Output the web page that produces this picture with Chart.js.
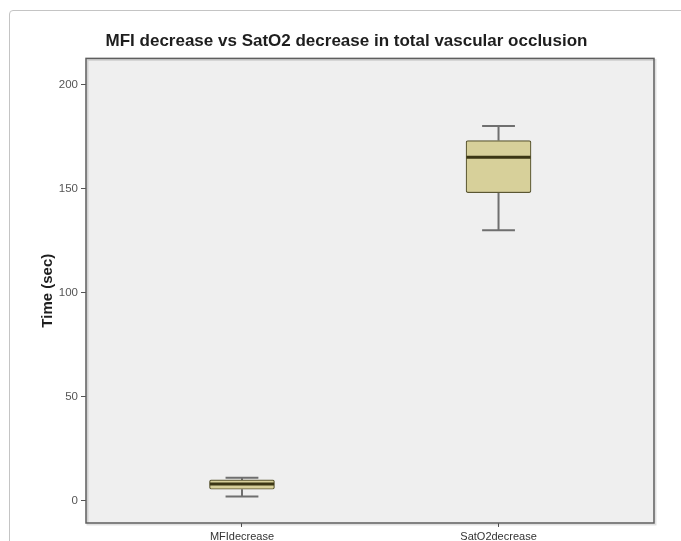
<!DOCTYPE html>
<html>
<head>
<meta charset="utf-8">
<script src="https://cdn.jsdelivr.net/npm/chart.js@4/dist/chart.umd.min.js"></script>
<style>
  html, body { margin: 0; padding: 0; background: #ffffff; }
  #wrap { position: relative; width: 681px; height: 541px; overflow: hidden; }
  #frame { position: absolute; left: 9px; top: 10px; width: 720px; height: 600px;
           border: 1px solid #c4c4c4; border-radius: 4px; box-sizing: border-box; }
  #c { position: absolute; left: 0; top: 0; }
</style>
</head>
<body>
<div id="wrap">
  <div id="frame"></div>
  <canvas id="c" width="681" height="541"></canvas>
</div>
<script>
// ---- data ----
const categories = ['MFIdecrease', 'SatO2decrease'];
const whiskerLow  = [2, 130];
const quartile1   = [5.5, 148];
const medians     = [8, 165];
const quartile3   = [10, 173];
const whiskerHigh = [11, 180];
const yTicks = [0, 50, 100, 150, 200];
const chartTitle = 'MFI decrease vs SatO2 decrease in total vascular occlusion';
const yTitle = 'Time (sec)';

// ---- presentation constants ----
const BOX_HALF = 0.125;   // half box width in category units
const CAP_HALF = 0.064;   // half whisker-cap width in category units

const boxData = categories.map((c, i) => ({ x: i + 1, y: [quartile1[i], quartile3[i]] }));

const whiskerData = [];
categories.forEach((c, i) => {
  const x = i + 1;
  whiskerData.push({ x, y: quartile3[i] }, { x, y: whiskerHigh[i] }, { x, y: null });
  whiskerData.push({ x, y: quartile1[i] }, { x, y: whiskerLow[i] }, { x, y: null });
  whiskerData.push({ x: x - CAP_HALF, y: whiskerHigh[i] }, { x: x + CAP_HALF, y: whiskerHigh[i] }, { x, y: null });
  whiskerData.push({ x: x - CAP_HALF, y: whiskerLow[i] }, { x: x + CAP_HALF, y: whiskerLow[i] }, { x, y: null });
});

const medianData = [];
categories.forEach((c, i) => {
  const x = i + 1;
  medianData.push({ x: x - BOX_HALF, y: medians[i] }, { x: x + BOX_HALF, y: medians[i] }, { x, y: null });
});

const plotFrame = {
  id: 'plotFrame',
  beforeDatasetsDraw(chart) {
    const { ctx, chartArea: a } = chart;
    ctx.save();
    ctx.fillStyle = '#efefef';
    ctx.fillRect(a.left, a.top, a.right - a.left, a.bottom - a.top);
    ctx.restore();
  },
  afterDraw(chart) {
    const { ctx, chartArea: a } = chart;
    ctx.save();
    ctx.strokeStyle = 'rgba(0,0,0,0.12)';
    ctx.lineWidth = 2;
    ctx.strokeRect(a.left + 1.5, a.top + 1.5, a.right - a.left, a.bottom - a.top);
    ctx.strokeStyle = '#5e5e5e';
    ctx.lineWidth = 1.5;
    ctx.strokeRect(a.left, a.top, a.right - a.left, a.bottom - a.top);
    ctx.restore();
  }
};

new Chart(document.getElementById('c'), {
  type: 'bar',
  data: {
    datasets: [
      {
        type: 'line',
        data: medianData,
        borderColor: '#3b3614',
        borderWidth: 3,
        pointRadius: 0,
        spanGaps: false,
        order: 0
      },
      {
        type: 'bar',
        data: boxData,
        backgroundColor: '#d7d09a',
        borderColor: '#5a5632',
        borderWidth: 1.2,
        borderSkipped: false,
        borderRadius: 2,
        barThickness: 65,
        order: 1
      },
      {
        type: 'line',
        data: whiskerData,
        borderColor: '#6f6f6f',
        borderWidth: 2,
        pointRadius: 0,
        spanGaps: false,
        order: 2
      }
    ]
  },
  options: {
    responsive: false,
    animation: false,
    layout: { padding: { left: 39, right: 27, top: 0, bottom: 0 } },
    plugins: {
      legend: { display: false },
      tooltip: { enabled: false },
      title: {
        display: true,
        text: chartTitle,
        color: '#1e1e1e',
        font: { family: 'Liberation Sans', size: 17, weight: 'bold' },
        padding: { top: 31, bottom: 7 }
      }
    },
    scales: {
      x: {
        type: 'linear',
        offset: false,
        min: 0.392,
        max: 2.606,
        afterBuildTicks(scale) { scale.ticks = categories.map((c, i) => ({ value: i + 1 })); },
        afterFit(scale) { scale.height = 18; },
        border: { display: false },
        grid: { offset: false, drawOnChartArea: false, drawTicks: true, tickLength: 4, tickColor: '#555555', lineWidth: 1 },
        ticks: {
          padding: 3,
          autoSkip: false,
          maxRotation: 0,
          color: '#333333',
          font: { family: 'Liberation Sans', size: 11 },
          callback: (v) => categories[Math.round(v) - 1] || ''
        }
      },
      y: {
        type: 'linear',
        min: -10.7,
        max: 212.5,
        afterBuildTicks(scale) { scale.ticks = yTicks.map(v => ({ value: v })); },
        afterFit(scale) { scale.width = 47; },
        border: { display: false },
        grid: { drawOnChartArea: false, drawTicks: true, tickLength: 5, tickColor: '#555555', lineWidth: 1 },
        ticks: {
          padding: 3,
          color: '#555555',
          font: { family: 'Liberation Sans', size: 11.5 }
        },
        title: {
          display: true,
          text: yTitle,
          color: '#1e1e1e',
          font: { family: 'Liberation Sans', size: 15, weight: 'bold' },
          padding: { top: 0, bottom: 0 }
        }
      }
    }
  },
  plugins: [plotFrame]
});
</script>
</body>
</html>
